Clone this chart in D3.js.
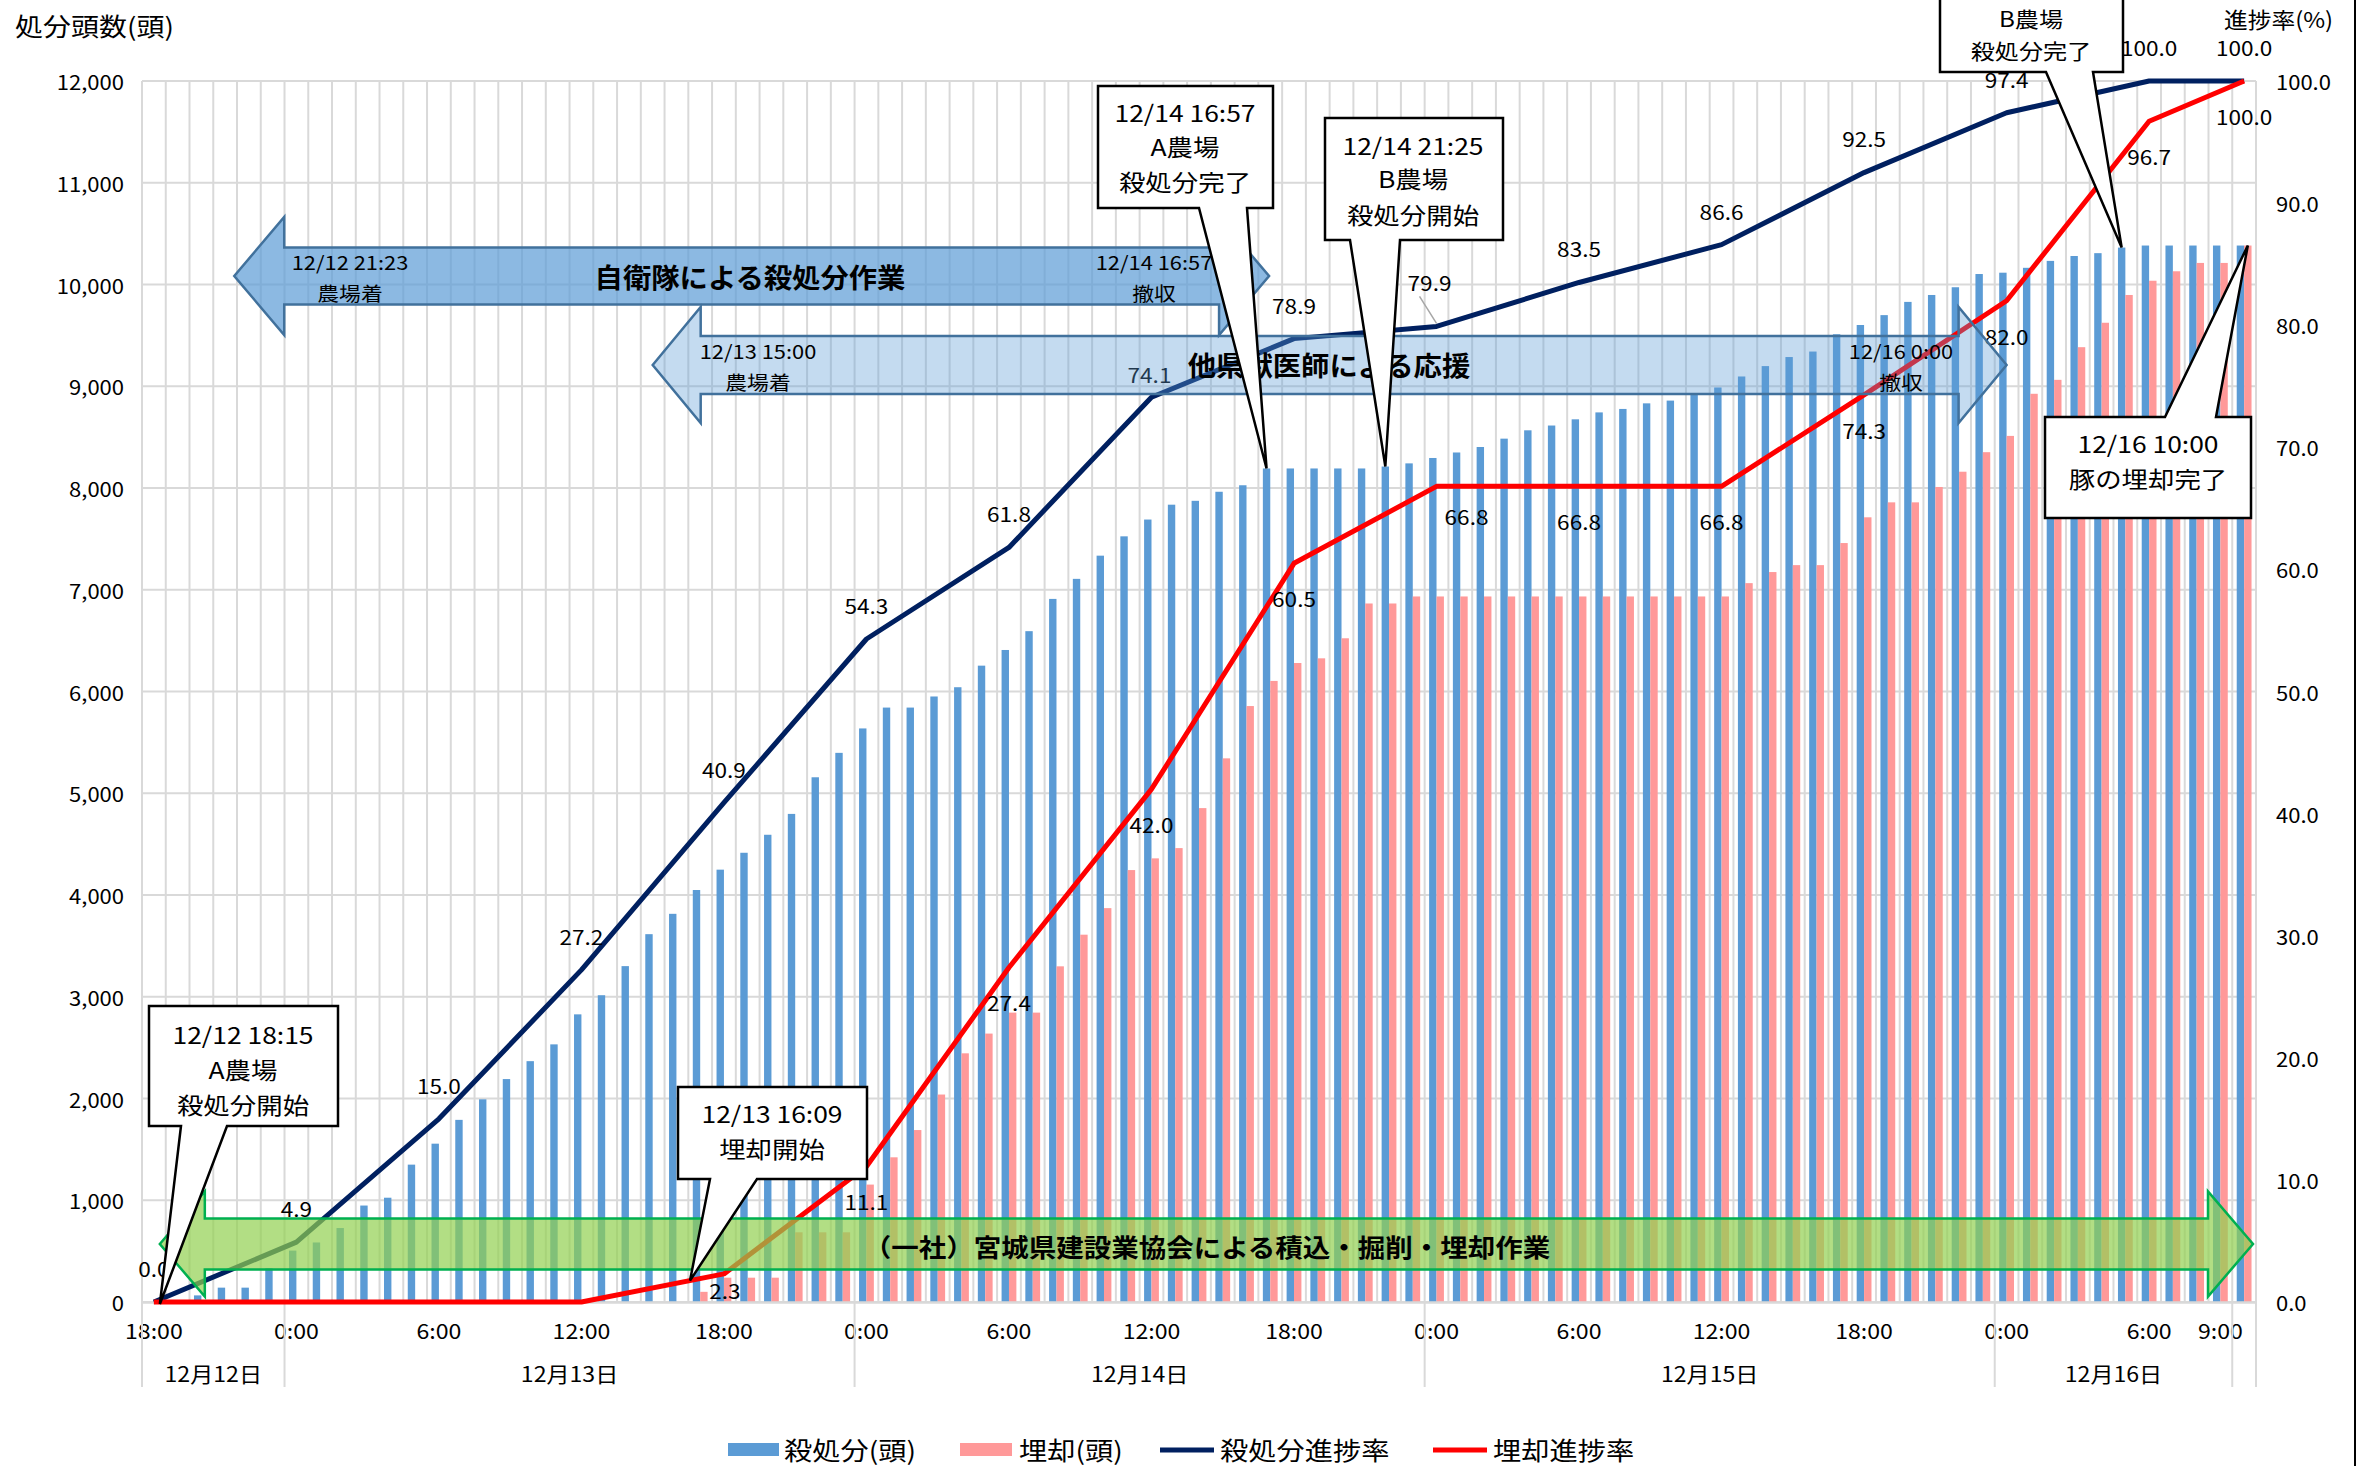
<!DOCTYPE html>
<html><head><meta charset="utf-8">
<script src="https://cdn.jsdelivr.net/npm/d3@7"></script>
<style>
html,body{margin:0;padding:0;background:#fff;}
svg{display:block;}
text{font-family:"Noto Sans CJK JP","Noto Sans",sans-serif;fill:#000;}
</style></head><body>
<svg id="chart" width="2368" height="1466"></svg>
<script>
// Hourly categories from 12/12 18:00 to 12/16 10:00
const startDay = 12, startHour = 18, categoryCount = 89;
const hourLabels = d3.range(categoryCount).map(i => `${(startHour + i) % 24}:00`);
const shownTicks = [0, 6, 12, 18, 24, 30, 36, 42, 48, 54, 60, 66, 72, 78, 84, 87];
const dayGroups = [
  ["12月12日", 0, 5], ["12月13日", 6, 29], ["12月14日", 30, 53],
  ["12月15日", 54, 77], ["12月16日", 78, 87], ["", 88, 88]
];
const leftTicks = d3.range(0, 12001, 1000);
const rightTicks = d3.range(0, 101, 10);

// Cumulative head counts per hour
const killed = [
  0, 0, 65, 141, 141, 333, 505, 585, 727, 948, 1025, 1350, 1556, 1790, 1992, 2191, 2367, 2532,
  2827, 3015, 3301, 3615, 3815, 4049, 4249, 4415, 4592, 4797, 5157, 5397,
  5637, 5842, 5842, 5951, 6042, 6254, 6408, 6593, 6910, 7107, 7335, 7525,
  7690, 7836, 7874, 7963, 8027, 8192, 8192, 8192, 8192, 8192, 8211, 8242,
  8295, 8349, 8403, 8485, 8567, 8614, 8675, 8743, 8777, 8832, 8859, 8930,
  8988, 9096, 9198, 9287, 9341, 9511, 9602, 9699, 9829, 9897, 9973, 10103,
  10116, 10164, 10232, 10280, 10308, 10363, 10383, 10383, 10383, 10383, 10383
];
const buried = [
  0, 0, 0, 0, 0, 0, 0, 0, 0, 0, 0, 0, 0, 0, 0, 0, 0, 0,
  0, 0, 0, 0, 0, 100, 239, 239, 239, 685, 685, 685,
  1154, 1422, 1690, 2039, 2444, 2638, 2844, 2844, 3299, 3610, 3871, 4245,
  4360, 4461, 4854, 5343, 5857, 6104, 6280, 6326, 6523, 6865, 6865, 6934,
  6934, 6934, 6934, 6934, 6934, 6934, 6934, 6934, 6934, 6934, 6934, 6934,
  6934, 7065, 7174, 7242, 7242, 7459, 7712, 7859, 7859, 8010, 8160, 8352,
  8512, 8926, 9063, 9384, 9624, 9897, 10037, 10130, 10212, 10212, 10383
];

// Progress rates (%) at six-hour points
const rateIdx = [0, 6, 12, 18, 24, 30, 36, 42, 48, 54, 60, 66, 72, 78, 84, 88];
const killRate = [0.0, 4.9, 15.0, 27.2, 40.9, 54.3, 61.8, 74.1, 78.9, 79.9, 83.5, 86.6, 92.5, 97.4, 100.0, 100.0];
const buryRate = [0.0, 0.0, 0.0, 0.0, 2.3, 11.1, 27.4, 42.0, 60.5, 66.8, 66.8, 66.8, 74.3, 82.0, 96.7, 100.0];
const buryLabelFrom = 4;

const legendNames = ["殺処分(頭)", "埋却(頭)", "殺処分進捗率", "埋却進捗率"];

const C = { kill: "#5b9bd5", bury: "#ff9999", killLine: "#002060", buryLine: "#ff0000", grid: "#d9d9d9" };
const SX = 1.1;
const plot = { left: 142, right: 2256, top: 81, bottom: 1302 };

const svg = d3.select("#chart");
const xIdx = d3.scaleLinear().domain([0, categoryCount]).range([plot.left, plot.right]);
const xBand = d3.scaleBand().domain(d3.range(categoryCount)).range([plot.left, plot.right])
  .paddingInner(0.377).paddingOuter(0.1885);
const xSub = d3.scaleBand().domain(["killed", "buried"]).range([0, xBand.bandwidth()]);
const yL = d3.scaleLinear().domain([0, 12000]).range([plot.bottom, plot.top]);
const yR = d3.scaleLinear().domain([0, 100]).range([plot.bottom, plot.top]);
const xMid = i => xIdx(i + 0.5);
const xTime = h => xIdx(h + 0.5); // hours since 12/12 18:00

function txt(g, x, y, s, o = {}) {
  return g.append("text")
    .attr("transform", `translate(${x},${y}) scale(${o.sx || SX},1)`)
    .attr("text-anchor", o.anchor || "middle")
    .attr("dominant-baseline", "central")
    .style("font-size", (o.size || 20) + "px")
    .style("font-weight", o.weight || "normal")
    .style("fill", o.fill || "#000")
    .text(s);
}

// gridlines
const grid = svg.append("g");
grid.selectAll(".vg").data(d3.range(categoryCount + 1)).join("line")
  .attr("x1", d => xIdx(d)).attr("x2", d => xIdx(d))
  .attr("y1", plot.top).attr("y2", plot.bottom)
  .attr("stroke", C.grid).attr("stroke-width", 2);
grid.selectAll(".hg").data(leftTicks).join("line")
  .attr("x1", plot.left).attr("x2", plot.right)
  .attr("y1", d => yL(d)).attr("y2", d => yL(d))
  .attr("stroke", C.grid).attr("stroke-width", 2);

// bars
const bars = svg.append("g");
bars.selectAll(".k").data(killed).join("rect")
  .attr("x", (d, i) => xBand(i) + xSub("killed")).attr("width", xSub.bandwidth())
  .attr("y", d => yL(d)).attr("height", d => yL(0) - yL(d)).attr("fill", C.kill);
bars.selectAll(".b").data(buried).join("rect")
  .attr("x", (d, i) => xBand(i) + xSub("buried")).attr("width", xSub.bandwidth())
  .attr("y", d => yL(d)).attr("height", d => yL(0) - yL(d)).attr("fill", C.bury);

// x axis with hour labels and day groups
const xAxis = svg.append("g").attr("transform", `translate(0,${plot.bottom})`)
  .call(d3.axisBottom(xBand).tickValues(shownTicks).tickFormat(i => hourLabels[i]).tickSize(0));
xAxis.select(".domain").attr("stroke", C.grid).attr("stroke-width", 2.5);
xAxis.selectAll(".tick text").attr("y", null).attr("dy", null)
  .attr("dominant-baseline", "central")
  .attr("transform", `translate(0,27) scale(${SX},1)`)
  .style("font-size", "21px").style("font-family", '"Noto Sans CJK JP",sans-serif');
const sepIdx = [0].concat(dayGroups.map(g => g[2] + 1));
svg.append("g").selectAll("line").data(sepIdx).join("line")
  .attr("x1", d => xIdx(d)).attr("x2", d => xIdx(d))
  .attr("y1", plot.bottom).attr("y2", 1387)
  .attr("stroke", C.grid).attr("stroke-width", 2);
const dayG = svg.append("g");
dayGroups.forEach(g => { if (g[0]) txt(dayG, (xIdx(g[1]) + xIdx(g[2] + 1)) / 2, 1372, g[0], { size: 21 }); });

// left and right axes
const yAxisL = svg.append("g").attr("transform", `translate(${plot.left},0)`)
  .call(d3.axisLeft(yL).tickValues(leftTicks).tickFormat(d3.format(",")).tickSize(0));
yAxisL.select(".domain").remove();
yAxisL.selectAll(".tick text").attr("x", null).attr("dy", null)
  .attr("dominant-baseline", "central")
  .attr("transform", `translate(-18,0) scale(${SX},1)`)
  .style("font-size", "20px").style("font-family", '"Noto Sans CJK JP",sans-serif');
const yAxisR = svg.append("g").attr("transform", `translate(${plot.right},0)`)
  .call(d3.axisRight(yR).tickValues(rightTicks).tickFormat(d3.format(".1f")).tickSize(0));
yAxisR.select(".domain").remove();
yAxisR.selectAll(".tick text").attr("x", null).attr("dy", null)
  .attr("dominant-baseline", "central")
  .attr("transform", `translate(20,0) scale(${SX},1)`)
  .style("font-size", "20px").style("font-family", '"Noto Sans CJK JP",sans-serif');

txt(svg, 15, 25, "処分頭数(頭)", { anchor: "start", size: 25, sx: 1.12 });
txt(svg, 2224, 18, "進捗率(%)", { anchor: "start", size: 22, sx: 1.08 });

// progress lines
const line = d3.line().x(d => xMid(d[0])).y(d => yR(d[1]));
svg.append("path").datum(rateIdx.map((i, k) => [i, killRate[k]]))
  .attr("d", line).attr("fill", "none").attr("stroke", C.killLine).attr("stroke-width", 5).attr("stroke-linejoin", "round");
svg.append("path").datum(rateIdx.map((i, k) => [i, buryRate[k]]))
  .attr("d", line).attr("fill", "none").attr("stroke", C.buryLine).attr("stroke-width", 5).attr("stroke-linejoin", "round");

// data labels
const fmt = d3.format(".1f");
const killOffset = { 7: [-2, -23], 9: [-7, -44] };
const buryOffset = { 4: [1, 16], 9: [30, 30] };
const lab = svg.append("g");
rateIdx.forEach((i, k) => {
  const o = killOffset[k] || [0, -34];
  txt(lab, xMid(i) + o[0], yR(killRate[k]) + o[1], fmt(killRate[k]), { size: 20, sx: 1.13 });
  if (k >= buryLabelFrom) {
    const p = buryOffset[k] || [0, 35];
    txt(lab, xMid(i) + p[0], yR(buryRate[k]) + p[1], fmt(buryRate[k]), { size: 20, sx: 1.13 });
  }
});
lab.append("line").attr("x1", xMid(rateIdx[9]) - 17).attr("y1", yR(killRate[9]) - 30)
  .attr("x2", xMid(rateIdx[9])).attr("y2", yR(killRate[9]) - 3)
  .attr("stroke", "#a6a6a6").attr("stroke-width", 1.5);

// work period arrows
function dblArrow(x0, x1, cy, hl, hh, bh) {
  return `M${x0},${cy} L${x0 + hl},${cy - hh} L${x0 + hl},${cy - bh} L${x1 - hl},${cy - bh} L${x1 - hl},${cy - hh} L${x1},${cy}` +
    ` L${x1 - hl},${cy + hh} L${x1 - hl},${cy + bh} L${x0 + hl},${cy + bh} L${x0 + hl},${cy + hh} Z`;
}
const arr = svg.append("g");
const sideOpt = { size: 19, sx: 1.15 };
// self-defense forces: 12/12 21:23 - 12/14 16:57
const sdf = [3 + 23 / 60, 46 + 57 / 60];
arr.append("path").attr("d", dblArrow(xTime(sdf[0]), xTime(sdf[1]), 276, 50, 59, 28.5))
  .attr("fill", "rgba(91,155,213,0.7)").attr("stroke", "#41719c").attr("stroke-width", 2.5);
txt(arr, 350, 262, "12/12 21:23", sideOpt);
txt(arr, 350, 293, "農場着", sideOpt);
txt(arr, 1154, 262, "12/14 16:57", sideOpt);
txt(arr, 1154, 293, "撤収", sideOpt);
txt(arr, 750, 276, "自衛隊による殺処分作業", { size: 27, weight: "bold", sx: 1.05 });
// veterinarians from other prefectures: 12/13 15:00 - 12/16 0:00
const vet = [21, 78];
arr.append("path").attr("d", dblArrow(xTime(vet[0]), xTime(vet[1]), 365, 48, 58, 29))
  .attr("fill", "rgba(91,155,213,0.36)").attr("stroke", "#41719c").attr("stroke-width", 2.5);
txt(arr, 758, 351, "12/13 15:00", sideOpt);
txt(arr, 758, 382, "農場着", sideOpt);
txt(arr, 1901, 351, "12/16 0:00", sideOpt);
txt(arr, 1901, 382, "撤収", sideOpt);
txt(arr, 1329, 364, "他県獣医師による応援", { size: 27, weight: "bold", sx: 1.05 });
// construction association: loading, digging, burial
arr.append("path").attr("d", dblArrow(xTime(0.25), plot.right - 3, 1244, 45, 52.5, 25.5))
  .attr("fill", "rgba(146,208,80,0.7)").attr("stroke", "#00b050").attr("stroke-width", 2.5);
txt(arr, 1207, 1247, "（一社）宮城県建設業協会による積込・掘削・埋却作業", { size: 25, weight: "bold", sx: 1.1 });

// callouts
function callout(box, base, tip, lines, cx, ys, size = 23) {
  const [x0, y0, x1, y1] = box;
  let d;
  if (tip[1] > y1) d = `M${x0},${y0} H${x1} V${y1} H${base[1]} L${tip[0]},${tip[1]} L${base[0]},${y1} H${x0} Z`;
  else d = `M${x0},${y0} H${base[0]} L${tip[0]},${tip[1]} L${base[1]},${y0} H${x1} V${y1} H${x0} Z`;
  const g = svg.append("g");
  g.append("path").attr("d", d).attr("fill", "#fff").attr("stroke", "#000").attr("stroke-width", 2.5).attr("stroke-linejoin", "miter");
  lines.forEach((s, k) => txt(g, cx, ys[k], s, { size, sx: 1.15 }));
}
const topOf = (i, key, arrV) => [xBand(i) + xSub(key) + xSub.bandwidth() / 2, yL(arrV[i])];
const redAt = x => {
  const pts = rateIdx.map((i, k) => [xMid(i), yR(buryRate[k])]);
  for (let k = 1; k < pts.length; k++) if (x <= pts[k][0]) {
    const t = (x - pts[k - 1][0]) / (pts[k][0] - pts[k - 1][0]);
    return pts[k - 1][1] + t * (pts[k][1] - pts[k - 1][1]);
  }
};
callout([149, 1006, 338, 1126], [181, 227], [xMid(0) + 6, yL(0) + 2], ["12/12 18:15", "A農場", "殺処分開始"], 243, [1034, 1069, 1104]);
callout([678, 1087, 867, 1179], [710, 757], [690, redAt(690)], ["12/13 16:09", "埋却開始"], 772, [1113, 1148]);
callout([1098, 86, 1273, 208], [1199, 1247], topOf(47, "killed", killed), ["12/14 16:57", "A農場", "殺処分完了"], 1185, [112, 146, 181]);
callout([1325, 118, 1503, 240], [1350, 1400], topOf(52, "killed", killed), ["12/14 21:25", "B農場", "殺処分開始"], 1413, [145, 178, 214]);
callout([1940, -40, 2123, 72], [2046, 2093], topOf(83, "killed", killed), ["B農場", "殺処分完了"], 2031, [18, 50], 21);
callout([2045, 417, 2251, 518], [2165, 2216], topOf(88, "buried", buried), ["12/16 10:00", "豚の埋却完了"], 2148, [443, 478]);

// legend
const lg = svg.append("g");
const lgOpt = { anchor: "start", size: 25, sx: 1.13 };
lg.append("rect").attr("x", 728).attr("y", 1443).attr("width", 51).attr("height", 13).attr("fill", C.kill);
txt(lg, 784, 1449, legendNames[0], lgOpt);
lg.append("rect").attr("x", 960).attr("y", 1443).attr("width", 52).attr("height", 13).attr("fill", C.bury);
txt(lg, 1019, 1449, legendNames[1], lgOpt);
lg.append("line").attr("x1", 1160).attr("x2", 1214).attr("y1", 1450).attr("y2", 1450).attr("stroke", C.killLine).attr("stroke-width", 5);
txt(lg, 1220, 1449, legendNames[2], lgOpt);
lg.append("line").attr("x1", 1433).attr("x2", 1487).attr("y1", 1450).attr("y2", 1450).attr("stroke", C.buryLine).attr("stroke-width", 5);
txt(lg, 1493, 1449, legendNames[3], lgOpt);

// frame edge on the right
svg.append("line").attr("x1", 2355).attr("x2", 2355).attr("y1", 0).attr("y2", 1466).attr("stroke", "#000").attr("stroke-width", 2);
</script>
</body></html>
